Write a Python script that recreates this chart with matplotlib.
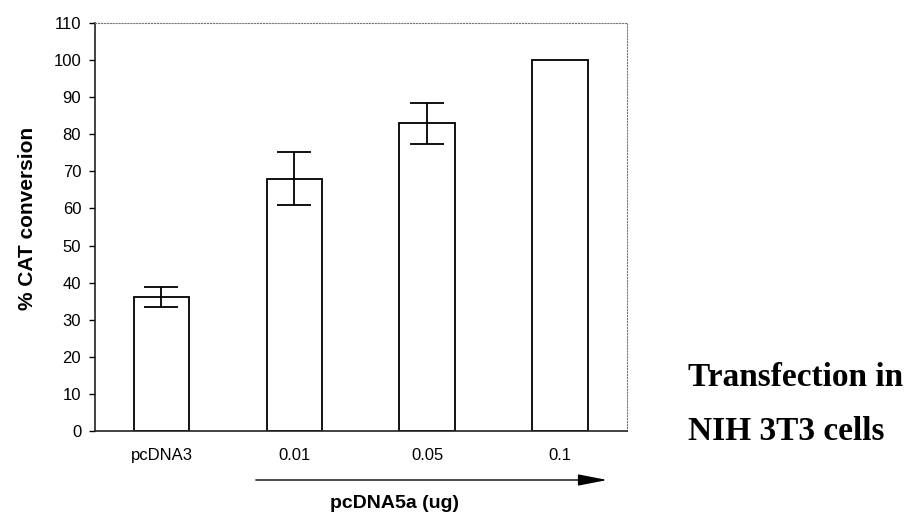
import matplotlib
matplotlib.use("Agg")
import matplotlib.pyplot as plt
import numpy as np

# values
groups = ["pcDNA3", "0.01", "0.05", "0.1"]
cat_conversion = [36, 68, 83, 100]
errors = [2.7, 7.2, 5.5, 0]

plt.rcParams['font.family'] = ['Liberation Sans', 'DejaVu Sans']

fig = plt.figure(figsize=(9.11, 5.18), dpi=100)
ax = fig.add_axes([0.1043, 0.168, 0.5837, 0.7876])

x = np.arange(len(groups)) + 0.5
ax.bar(x, cat_conversion, width=0.42, color='white', edgecolor='black', linewidth=1.3)
for xi, v, e in zip(x, cat_conversion, errors):
    if e > 0:
        ax.errorbar(xi, v, yerr=e, fmt='none', ecolor='black', elinewidth=1.3,
                    capsize=12, capthick=1.3)

ax.set_xlim(0, 4)
ax.set_ylim(0, 110)
ax.set_yticks(np.arange(0, 111, 10))
ax.set_xticks(x)
ax.set_xticklabels(groups, fontsize=12)
ax.tick_params(axis='y', labelsize=12, direction='out', length=4, width=1, pad=6)
ax.tick_params(axis='x', length=0, pad=12)

for s in ['top', 'right']:
    ax.spines[s].set_linestyle(':')
    ax.spines[s].set_color('#777777')
    ax.spines[s].set_linewidth(0.8)
for s in ['left', 'bottom']:
    ax.spines[s].set_color('#222222')
    ax.spines[s].set_linewidth(1.2)

ax.set_ylabel("% CAT conversion", fontsize=15, fontweight='bold')
ax.yaxis.set_label_coords(-0.11, 0.52)

# arrow below the pcDNA5a doses
ax.annotate("", xy=(610 / 911, 38 / 518), xytext=(253 / 911, 38 / 518),
            xycoords='figure fraction', textcoords='figure fraction',
            arrowprops=dict(arrowstyle='-|>,head_length=1.8,head_width=0.35',
                            color='black', lw=1.0))
fig.text(395 / 911, 10 / 518, "pcDNA5a (ug)", fontsize=14, fontweight='bold',
         ha='center', va='baseline')

fig.text(688 / 911, 140 / 518, "Transfection in", fontsize=24, fontweight='bold',
         family=['Liberation Serif', 'DejaVu Serif'], ha='left', va='center')
fig.text(688 / 911, 86 / 518, "NIH 3T3 cells", fontsize=24, fontweight='bold',
         family=['Liberation Serif', 'DejaVu Serif'], ha='left', va='center')

fig.savefig("out.png", dpi=100)
